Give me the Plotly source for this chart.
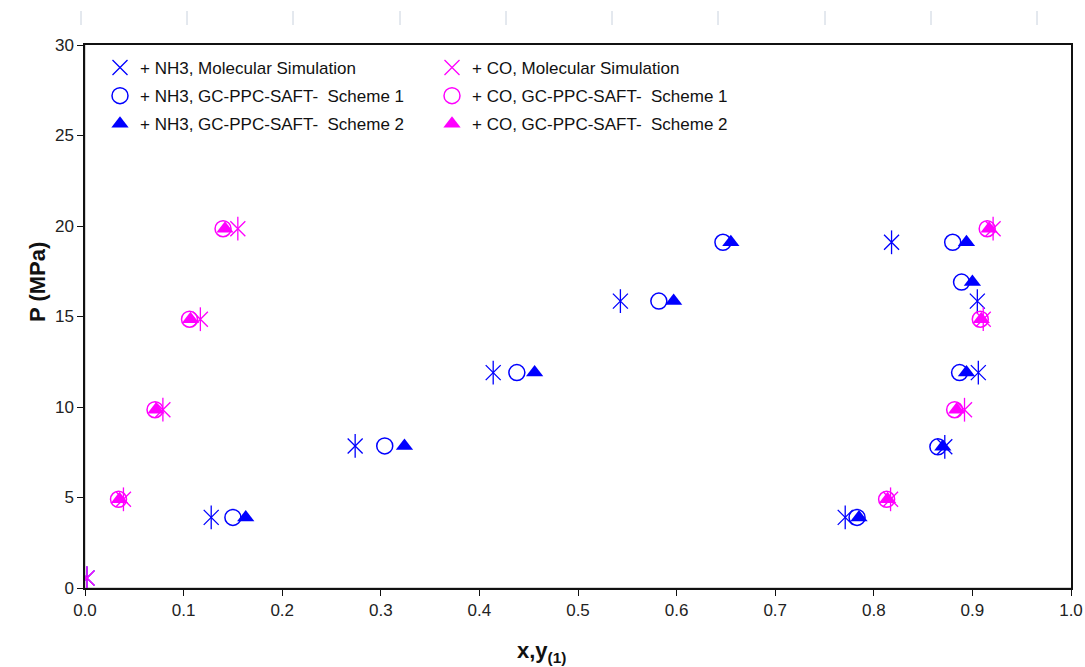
import plotly.graph_objects as go

# ---- data ----
nh3_ms_x = [0.002, 0.128, 0.274, 0.414, 0.543, 0.818, 0.905, 0.906, 0.872, 0.771]
nh3_ms_p = [0.55, 3.9, 7.85, 11.9, 15.85, 19.1, 15.85, 11.9, 7.8, 3.9]

nh3_s1_x = [0.150, 0.304, 0.438, 0.582, 0.647, 0.880, 0.889, 0.887, 0.865, 0.783]
nh3_s1_p = [3.9, 7.85, 11.9, 15.85, 19.1, 19.1, 16.9, 11.9, 7.8, 3.9]

nh3_s2_x = [0.163, 0.324, 0.456, 0.597, 0.655, 0.894, 0.900, 0.894, 0.870, 0.785]
nh3_s2_p = [3.9, 7.85, 11.9, 15.85, 19.1, 19.1, 16.9, 11.9, 7.8, 3.9]

co_ms_x = [0.002, 0.039, 0.079, 0.117, 0.155, 0.921, 0.911, 0.892, 0.817]
co_ms_p = [0.55, 4.9, 9.85, 14.85, 19.85, 19.85, 14.85, 9.85, 4.9]

co_s1_x = [0.034, 0.071, 0.106, 0.140, 0.915, 0.908, 0.882, 0.813]
co_s1_p = [4.9, 9.85, 14.85, 19.85, 19.85, 14.85, 9.85, 4.9]

co_s2_x = [0.035, 0.072, 0.107, 0.142, 0.917, 0.909, 0.884, 0.814]
co_s2_p = [4.9, 9.85, 14.85, 19.85, 19.85, 14.85, 9.85, 4.9]

x_ticks = [0.0, 0.1, 0.2, 0.3, 0.4, 0.5, 0.6, 0.7, 0.8, 0.9, 1.0]
y_ticks = [0, 5, 10, 15, 20, 25, 30]

BLUE = "#0000FF"
MAG = "#FF00FF"
FONT = "Liberation Sans, Arial, sans-serif"

fig = go.Figure()

def star(x, y, color, name, legend):
    # six-armed asterisk: an X overlaid by a vertical bar
    fig.add_trace(go.Scatter(
        x=x, y=y, mode="markers", name=name, legend=legend, legendgroup=name,
        marker=dict(symbol="x-thin-open", size=15, color=color,
                    line=dict(color=color, width=1.3))))
    fig.add_trace(go.Scatter(
        x=x, y=y, mode="markers", name=name, legend=legend, legendgroup=name,
        showlegend=False,
        marker=dict(symbol="line-ns-open", size=17, color=color,
                    line=dict(color=color, width=1.3))))

def circ(x, y, color, name, legend):
    fig.add_trace(go.Scatter(
        x=x, y=y, mode="markers", name=name, legend=legend, legendgroup=name,
        marker=dict(symbol="circle-open", size=16, color=color,
                    line=dict(color=color, width=1.5))))

def tri(x, y, color, name, legend):
    fig.add_trace(go.Scatter(
        x=x, y=y, mode="markers", name=name, legend=legend, legendgroup=name,
        marker=dict(symbol="triangle-up", size=15, color=color,
                    line=dict(width=0))))

star(nh3_ms_x, nh3_ms_p, BLUE, "+ NH3, Molecular Simulation", "legend")
circ(nh3_s1_x, nh3_s1_p, BLUE, "+ NH3, GC-PPC-SAFT-  Scheme 1", "legend")
tri(nh3_s2_x, nh3_s2_p, BLUE, "+ NH3, GC-PPC-SAFT-  Scheme 2", "legend")
star(co_ms_x, co_ms_p, MAG, "+ CO, Molecular Simulation", "legend2")
circ(co_s1_x, co_s1_p, MAG, "+ CO, GC-PPC-SAFT-  Scheme 1", "legend2")
tri(co_s2_x, co_s2_p, MAG, "+ CO, GC-PPC-SAFT-  Scheme 2", "legend2")

L, R, T, B = 85, 14, 45, 79
W, H = 1085, 667
pw = W - L - R
ph = H - T - B

def px_x(px):
    return (px - L) / pw

def px_y(py):
    return (H - B - py) / ph

leg_common = dict(bgcolor="rgba(0,0,0,0)", borderwidth=0,
                  font=dict(family=FONT, size=17, color="#111111"),
                  tracegroupgap=3, itemwidth=30,
                  xanchor="left", yanchor="top", traceorder="grouped")

# faint marks above the chart
top_marks = [81, 187, 293, 400, 506, 612, 718, 825, 931, 1037]
shapes = []
for m in top_marks:
    shapes.append(dict(type="line", xref="paper", yref="paper",
                       x0=px_x(m), x1=px_x(m), y0=px_y(11), y1=px_y(25),
                       line=dict(color="#C9D2DE", width=1)))
# shadow of the frame
shapes.append(dict(type="rect", xref="paper", yref="paper",
                   x0=0, x1=1 + 1.5 / pw, y0=0, y1=1 + 1.5 / ph,
                   line=dict(color="#AAAAAA", width=1), layer="below"))

axis_common = dict(showgrid=False, zeroline=False, automargin=False,
                   showline=True, linecolor="#111111", linewidth=1.5, mirror=True,
                   ticks="outside", ticklen=6, tickcolor="#111111", tickwidth=1,
                   tickfont=dict(family=FONT, size=17, color="#222222"))

fig.update_layout(
    width=W, height=H,
    margin=dict(l=L, r=R, t=T, b=B, autoexpand=False),
    paper_bgcolor="white", plot_bgcolor="white",
    font=dict(family=FONT, size=17, color="#222222"),
    showlegend=True,
    legend=dict(x=px_x(100), y=px_y(50), **leg_common),
    legend2=dict(x=px_x(432), y=px_y(50), **leg_common),
    xaxis=dict(range=[0, 1], tickvals=x_ticks,
               ticktext=[f"{v:.1f}" for v in x_ticks], **axis_common),
    yaxis=dict(range=[0, 30], tickvals=y_ticks, **axis_common),
    shapes=shapes,
    annotations=[
        dict(text="<b>P (MPa)</b>", xref="paper", yref="paper",
             x=px_x(37), y=px_y(282), textangle=-90, showarrow=False,
             xanchor="center", yanchor="middle",
             font=dict(family=FONT, size=22, color="#111111")),
        dict(text="<b>x,y<sub>(1)</sub></b>", xref="paper", yref="paper",
             x=px_x(541), y=px_y(652), showarrow=False,
             xanchor="center", yanchor="middle",
             font=dict(family=FONT, size=22, color="#111111")),
    ],
)

fig.write_html("out.html")
